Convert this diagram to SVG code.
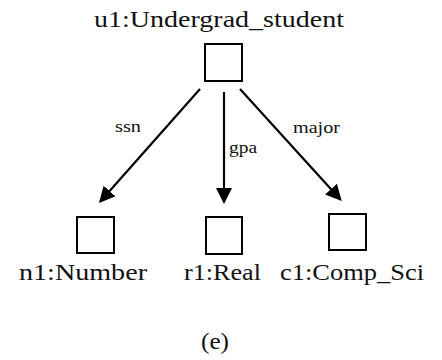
<svg xmlns="http://www.w3.org/2000/svg" width="442" height="360" viewBox="0 0 442 360">
  <style>
    .box { fill: #ffffff; stroke: #000000; stroke-width: 2; }
    .lbl { font-family: "Liberation Serif", "DejaVu Serif", serif; font-size: 23px; fill: #111111; text-anchor: middle; }
    .elbl { font-family: "Liberation Serif", "DejaVu Serif", serif; font-size: 17px; fill: #111111; }
    .edge { stroke: #000000; stroke-width: 2.2; fill: none; marker-end: url(#head); }
  </style>
  <defs>
    <!-- filled triangular arrowhead, tip placed 2px past the line end -->
    <marker id="head" viewBox="0 0 16 16" refX="14" refY="8" markerWidth="16" markerHeight="16" markerUnits="userSpaceOnUse" orient="auto">
      <path d="M0,0 L16,8 L0,16 z" fill="#000000"/>
    </marker>
  </defs>
  <rect width="442" height="360" fill="#ffffff"/>

  <g id="u1">
    <text class="lbl" x="219" y="27" textLength="250" lengthAdjust="spacingAndGlyphs">u1:Undergrad_student</text>
    <rect class="box" x="205" y="44" width="37" height="37"/>
  </g>
  <g id="n1">
    <rect class="box" x="77" y="217" width="37" height="36"/>
    <text class="lbl" x="83" y="280" textLength="128" lengthAdjust="spacingAndGlyphs">n1:Number</text>
  </g>
  <g id="r1">
    <rect class="box" x="206" y="217" width="36" height="37"/>
    <text class="lbl" x="222.5" y="280" textLength="77" lengthAdjust="spacingAndGlyphs">r1:Real</text>
  </g>
  <g id="c1">
    <rect class="box" x="329" y="214" width="37" height="36"/>
    <text class="lbl" x="352" y="280" textLength="144" lengthAdjust="spacingAndGlyphs">c1:Comp_Sci</text>
  </g>

  <g id="edges">
    <line class="edge" x1="200" y1="89" x2="100.3" y2="201.5"/>
    <line class="edge" x1="224" y1="92" x2="224" y2="202"/>
    <line class="edge" x1="240" y1="89" x2="340.4" y2="199.5"/>
    <text class="elbl" x="115" y="132" textLength="26" lengthAdjust="spacingAndGlyphs">ssn</text>
    <text class="elbl" x="229" y="153" textLength="28" lengthAdjust="spacingAndGlyphs">gpa</text>
    <text class="elbl" x="293" y="133" textLength="47" lengthAdjust="spacingAndGlyphs">major</text>
  </g>

  <text class="lbl" x="215" y="349" textLength="28" lengthAdjust="spacingAndGlyphs">(e)</text>
</svg>
